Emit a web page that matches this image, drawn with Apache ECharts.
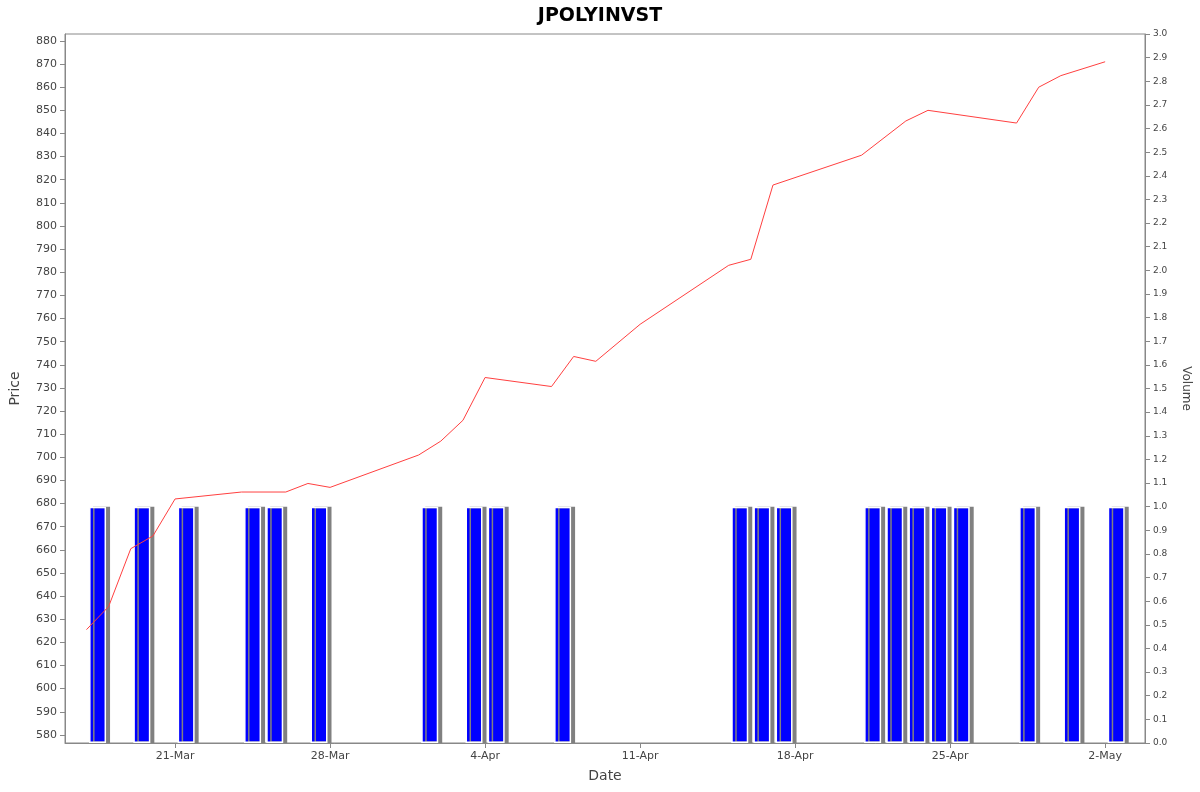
<!DOCTYPE html>
<html><head><meta charset="utf-8">
<script src="https://cdn.jsdelivr.net/npm/echarts@6/dist/echarts.min.js"></script>
<style>html,body{margin:0;padding:0;background:#fff}#c{width:1200px;height:792px}</style>
</head><body><div id="c"></div>
<script>
// day numbers: March d = d, April d = 31+d, May d = 61+d
const priceDays = [17,18,19,20,21,24,26,27,28,32,33,34,35,38,39,40,42,46,47,48,52,54,55,59,60,61,63];
const priceVals = [625.5,635.5,660.5,666,682,685,685,688.7,687,701,707,716,734.5,730.6,743.6,741.5,757.5,783,785.6,817.7,830.6,845.4,850,844.5,860,865,871];
const volDays = [17,19,21,24,25,27,32,34,35,38,46,47,48,52,53,54,55,56,59,61,63];
const volVals = [1,1,1,1,1,1,1,1,1,1,1,1,1,1,1,1,1,1,1,1,1];
const tickDays = [21,28,35,42,49,56,63];
const tickLabels = ['21-Mar','28-Mar','4-Apr','11-Apr','18-Apr','25-Apr','2-May'];
const priceTicks = [];
for (let v = 580; v <= 880; v += 10) priceTicks.push(v);

const font = 'DejaVu Sans, sans-serif';
const chart = echarts.init(document.getElementById('c'));
chart.setOption({
  animation: false,
  backgroundColor: '#fff',
  title: {text: 'JPOLYINVST', left: 'center', top: 2, textStyle: {fontFamily: font, fontSize: 19, fontWeight: 'bold', color: '#000'}},
  grid: {left: 65, right: 55, top: 34, bottom: 49, show: true, borderColor: '#888', borderWidth: 1},
  xAxis: {
    type: 'value', min: 16.03, max: 64.8,
    name: 'Date', nameLocation: 'middle', nameGap: 26,
    nameTextStyle: {fontFamily: font, fontSize: 14, color: '#444'},
    axisLine: {lineStyle: {color: '#888'}},
    axisTick: {customValues: tickDays, lineStyle: {color: '#888'}},
    axisLabel: {customValues: tickDays, fontFamily: font, fontSize: 11, color: '#444',
      formatter: v => tickLabels[tickDays.indexOf(v)]},
    splitLine: {show: false}
  },
  yAxis: [{
    type: 'value', min: 576.5, max: 883, position: 'left',
    name: 'Price', nameLocation: 'middle', nameGap: 43, nameRotate: 90,
    nameTextStyle: {fontFamily: font, fontSize: 14, color: '#444'},
    axisLine: {show: true, lineStyle: {color: '#888'}},
    axisTick: {show: true, customValues: priceTicks, lineStyle: {color: '#888'}},
    axisLabel: {customValues: priceTicks, fontFamily: font, fontSize: 11, color: '#444'},
    splitLine: {show: false}
  }, {
    type: 'value', min: 0, max: 3, interval: 0.1, position: 'right',
    name: 'Volume', nameLocation: 'middle', nameGap: 35, nameRotate: -90,
    nameTextStyle: {fontFamily: font, fontSize: 12, color: '#444'},
    axisLine: {show: true, lineStyle: {color: '#888'}},
    axisTick: {show: true, lineStyle: {color: '#888'}},
    axisLabel: {fontFamily: font, fontSize: 9, color: '#444', formatter: v => v.toFixed(1)},
    splitLine: {show: false}
  }],
  series: [{
    type: 'bar', yAxisIndex: 1, barWidth: 17,
    data: volDays.map((d, i) => [d + 0.5, volVals[i]]),
    itemStyle: {color: '#0000ff', borderColor: '#fff', borderWidth: 1.5,
      shadowColor: '#808080', shadowOffsetX: 4, shadowOffsetY: 0, shadowBlur: 0}
  }, {
    type: 'line', yAxisIndex: 0, symbol: 'none',
    data: priceDays.map((d, i) => [d, priceVals[i]]),
    lineStyle: {color: '#ff4040', width: 1}
  }]
});
</script></body></html>
